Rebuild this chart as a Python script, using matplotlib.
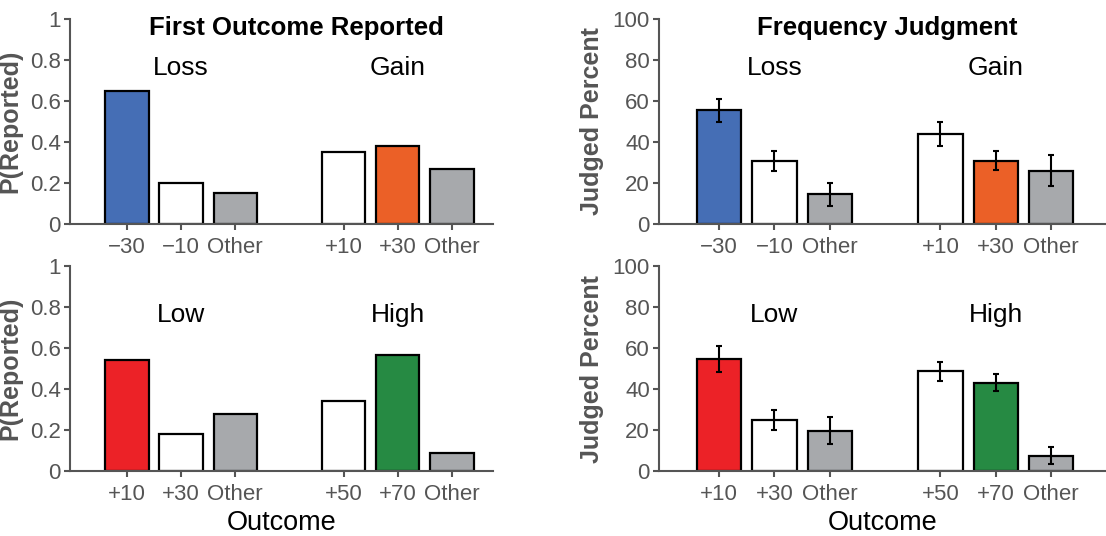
import matplotlib
matplotlib.use("Agg")
import matplotlib.pyplot as plt

plt.rcParams['font.family'] = ['Liberation Sans', 'DejaVu Sans']

# ---- data ----
positions = [1, 2, 3, 5, 6, 7]
top_labels = ["\u221230", "\u221210", "Other", "+10", "+30", "Other"]
bottom_labels = ["+10", "+30", "Other", "+50", "+70", "Other"]
top_groups = ["Loss", "Gain"]
bottom_groups = ["Low", "High"]

first_top = [0.65, 0.20, 0.15, 0.35, 0.38, 0.27]
first_bottom = [0.54, 0.18, 0.28, 0.34, 0.565, 0.09]

freq_top = [55.6, 30.7, 14.4, 43.8, 30.9, 25.9]
freq_top_err = [5.6, 4.9, 5.7, 5.9, 4.7, 7.6]
freq_bottom = [54.8, 24.8, 19.8, 48.7, 43.2, 7.6]
freq_bottom_err = [6.2, 4.9, 6.7, 4.5, 4.1, 4.0]

top_colors = ["#456EB5", "white", "#A7A9AC", "white", "#EB6027", "#A7A9AC"]
bottom_colors = ["#EC2227", "white", "#A7A9AC", "white", "#268A43", "#A7A9AC"]

W, H = 1106, 536
fig = plt.figure(figsize=(W / 100, H / 100), dpi=100)

GRAY = "#555555"

def make_ax(left, right, top, bottom):
    return fig.add_axes([left / W, (H - bottom) / H, (right - left) / W, (bottom - top) / H])

def style(ax, ymax, yticks, yticklabels, xlim):
    ax.set_xlim(*xlim)
    ax.set_ylim(0, ymax)
    ax.set_yticks(yticks)
    ax.set_yticklabels(yticklabels)
    for s in ["top", "right"]:
        ax.spines[s].set_visible(False)
    for s in ["left", "bottom"]:
        ax.spines[s].set_color(GRAY)
        ax.spines[s].set_linewidth(1.5)
    ax.tick_params(axis="both", colors=GRAY, labelcolor=GRAY, labelsize=16,
                   width=1.5, length=4.5, direction="out")
    ax.tick_params(axis="y", pad=2)
    ax.tick_params(axis="x", pad=5)

ax_tl = make_ax(70, 493, 19, 224)
ax_bl = make_ax(70, 493, 266, 471.3)
ax_tr = make_ax(659, 1106, 19, 224)
ax_br = make_ax(659, 1106, 266, 471.3)

# left panels
for ax, vals, cols, labels, groups in [
    (ax_tl, first_top, top_colors, top_labels, top_groups),
    (ax_bl, first_bottom, bottom_colors, bottom_labels, bottom_groups),
]:
    ax.bar(positions, vals, width=0.8, color=cols, edgecolor="black", linewidth=1.6, zorder=2)
    style(ax, 1, [0, 0.2, 0.4, 0.6, 0.8, 1], ["0", "0.2", "0.4", "0.6", "0.8", "1"], (-0.05, 7.76))
    ax.set_xticks(positions)
    ax.set_xticklabels(labels)
    ax.set_ylabel("P(Reported)", fontsize=18, fontweight="bold", color=GRAY)
    ax.yaxis.set_label_coords(-0.113, 0.5)
    ax.text(2, 0.76, groups[0], fontsize=19, ha="center", va="center")
    ax.text(6, 0.76, groups[1], fontsize=19, ha="center", va="center")

# right panels
for ax, vals, errs, cols, labels, groups in [
    (ax_tr, freq_top, freq_top_err, top_colors, top_labels, top_groups),
    (ax_br, freq_bottom, freq_bottom_err, bottom_colors, bottom_labels, bottom_groups),
]:
    ax.bar(positions, vals, width=0.8, color=cols, edgecolor="black", linewidth=1.6, zorder=2)
    ax.errorbar(positions, vals, yerr=errs, fmt="none", ecolor="black",
                elinewidth=1.5, capsize=2.5, capthick=1.5, zorder=3)
    style(ax, 100, [0, 20, 40, 60, 80, 100], ["0", "20", "40", "60", "80", "100"], (-0.085, 7.99))
    ax.set_xticks(positions)
    ax.set_xticklabels(labels)
    ax.set_ylabel("Judged Percent", fontsize=18, fontweight="bold", color=GRAY)
    ax.yaxis.set_label_coords(-0.123, 0.5)
    ax.text(2, 76, groups[0], fontsize=19, ha="center", va="center")
    ax.text(6, 76, groups[1], fontsize=19, ha="center", va="center")

ax_tl.text(4.13, 0.956, "First Outcome Reported", fontsize=18.5, fontweight="bold",
           ha="center", va="center")
ax_tr.text(4.04, 95.6, "Frequency Judgment", fontsize=18.5, fontweight="bold",
           ha="center", va="center")

ax_bl.set_xlabel("Outcome", fontsize=19.5, labelpad=3)
ax_br.set_xlabel("Outcome", fontsize=19.5, labelpad=3)

fig.savefig("out.png", dpi=100)
